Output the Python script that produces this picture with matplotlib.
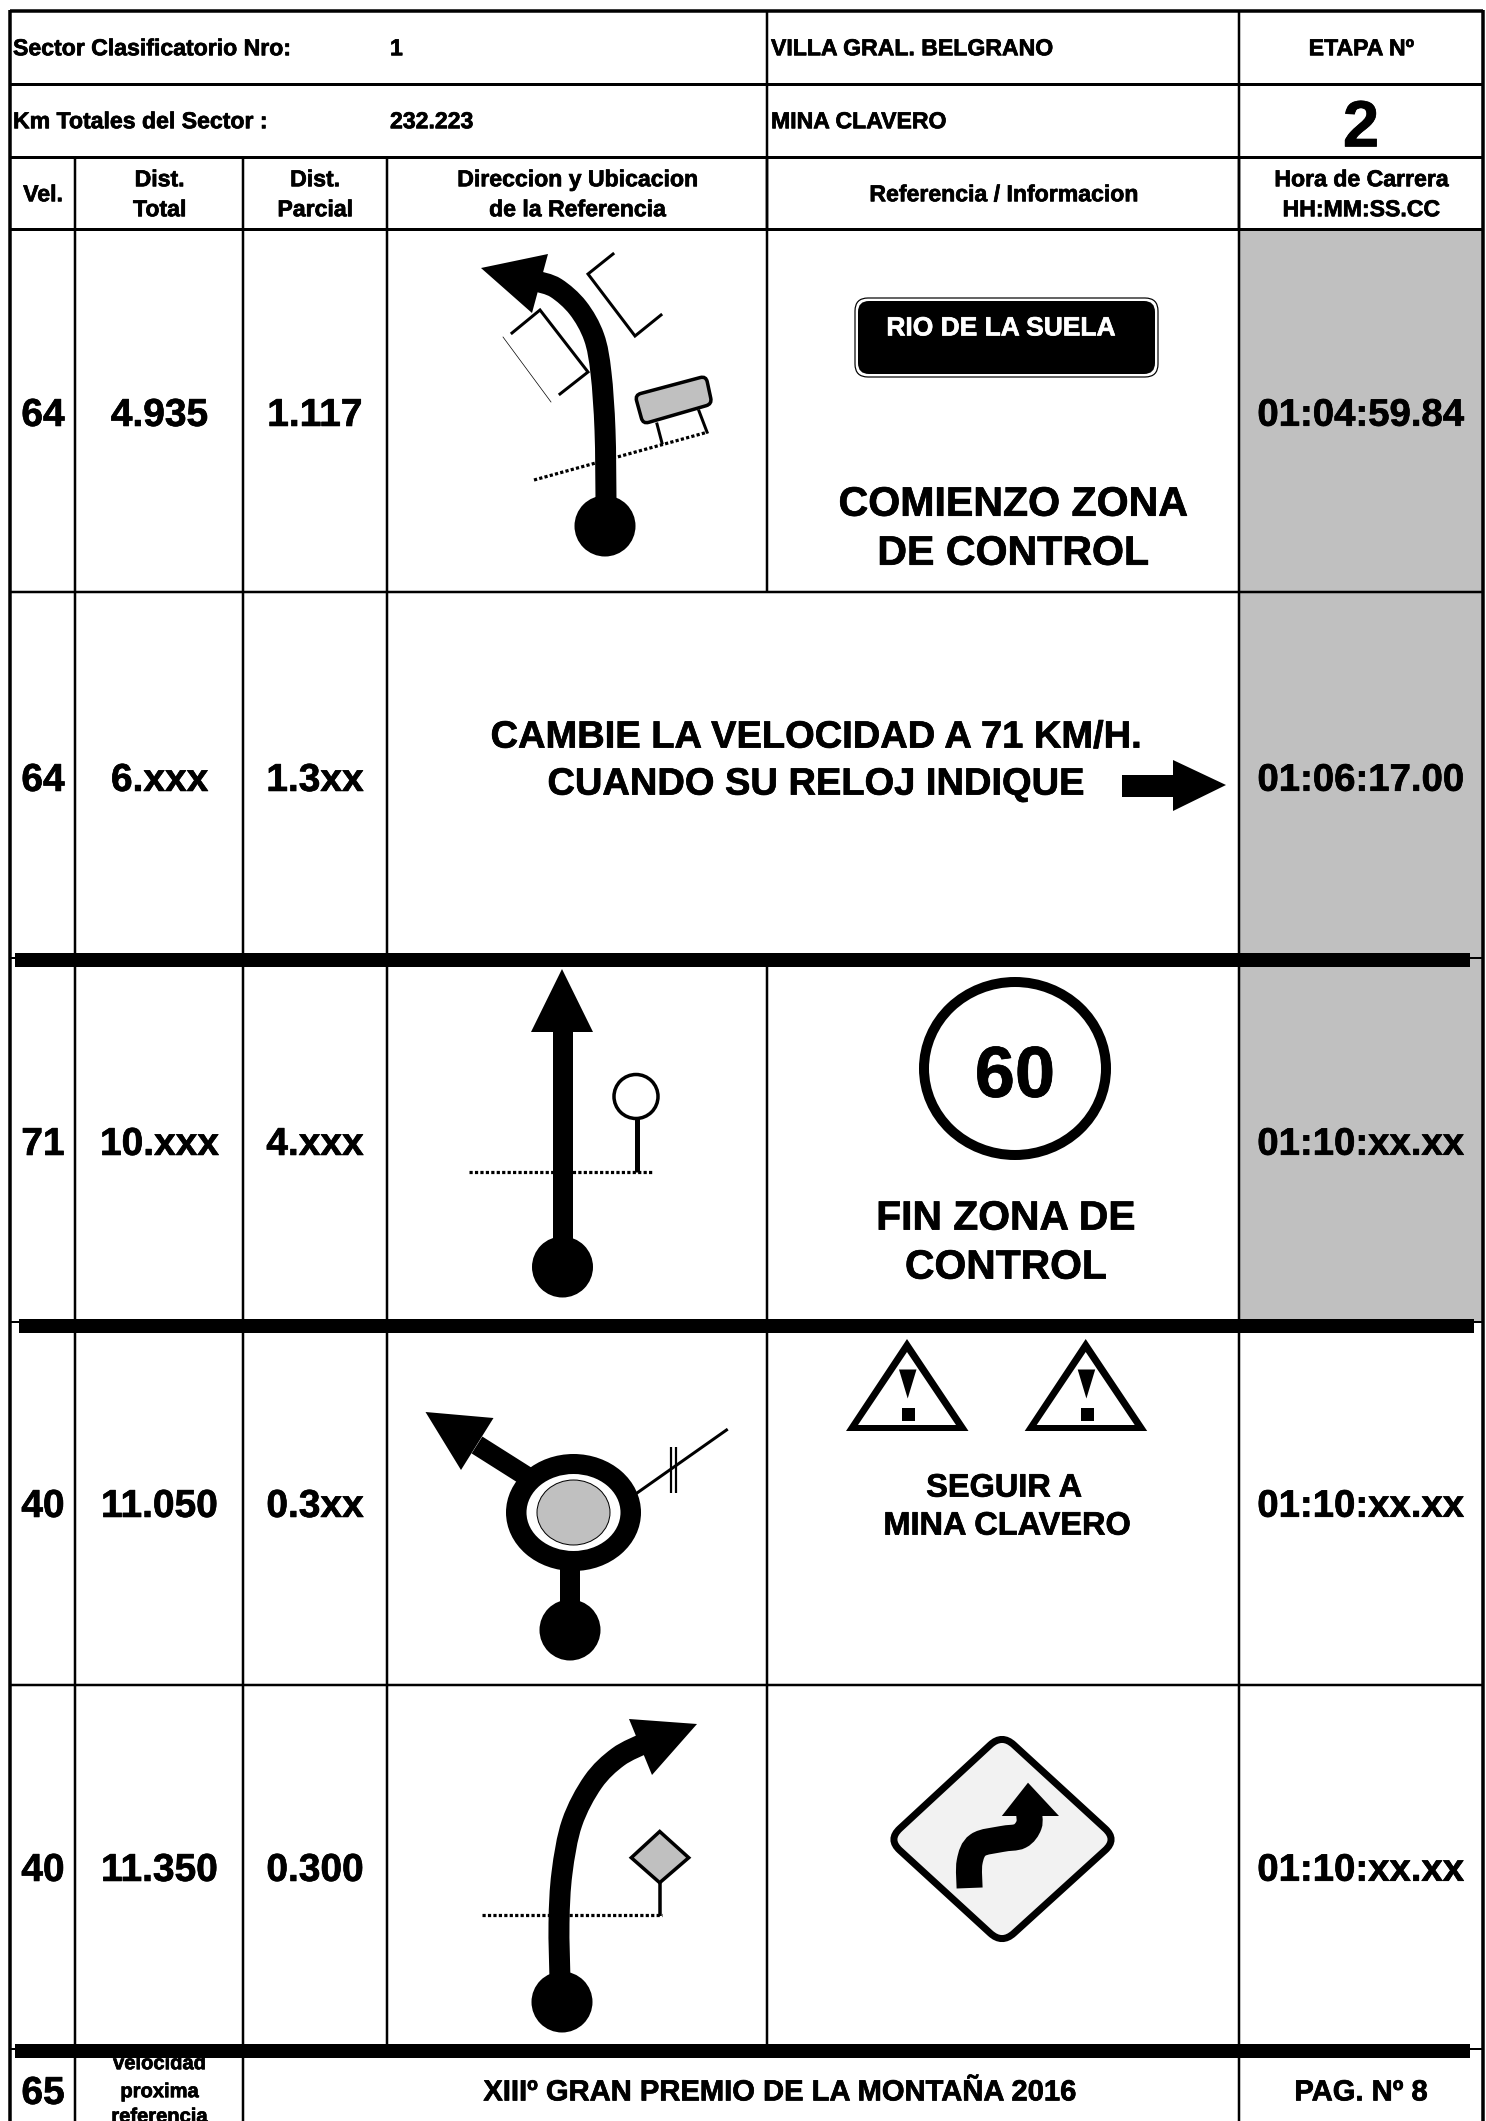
import matplotlib
matplotlib.use("Agg")
from matplotlib import pyplot as plt
from matplotlib import patheffects
from matplotlib.patches import Ellipse, Polygon, PathPatch, FancyBboxPatch, Rectangle
from matplotlib.path import Path

# table contents
sector_labels = ["Sector Clasificatorio Nro:", "Km Totales del Sector :"]
sector_values = ["1", "232.223"]
places = ["VILLA GRAL. BELGRANO", "MINA CLAVERO"]
etapa_label = "ETAPA Nº"
etapa_value = "2"
col_heads = [["Vel."], ["Dist.", "Total"], ["Dist.", "Parcial"],
             ["Direccion y Ubicacion", "de la Referencia"],
             ["Referencia / Informacion"], ["Hora de Carrera", "HH:MM:SS.CC"]]
vel = ["64", "64", "71", "40", "40"]
dist_total = ["4.935", "6.xxx", "10.xxx", "11.050", "11.350"]
dist_parcial = ["1.117", "1.3xx", "4.xxx", "0.3xx", "0.300"]
hora = ["01:04:59.84", "01:06:17.00", "01:10:xx.xx", "01:10:xx.xx", "01:10:xx.xx"]
next_vel = "65"
next_label = ["velocidad", "proxima", "referencia"]
footer = "XIIIº GRAN PREMIO DE LA MONTAÑA 2016"
page = "PAG. Nº 8"

# grid, in pixels of the page
col_x = [10, 75, 243, 387, 767, 1239, 1483]
row_y = [11, 84, 157, 229, 592, 957, 1322, 1685, 2051, 2121]
row_mid = [412, 777, 1141, 1503, 1867]
col_mid = [43, 159.5, 315, 577, 1003, 1361]
thick_bars = [(15, 1470, 960), (19, 1474, 1326), (15, 1470, 2051)]

GREY = "#c0c0c0"
FONT = "Liberation Sans"

plt.rcParams['font.family'] = FONT

fig = plt.figure(figsize=(14.86, 21.21), dpi=100)
ax = fig.add_axes([0, 0, 1, 1])
ax.set_xlim(0, 1486)
ax.set_ylim(2121, 0)
ax.axis("off")


def px(v):
    return v * 0.72


def txt(x, y, s, size, ha="center", color="black", z=5):
    # y is the middle of the capitals
    base = y + 0.358 * size * 100 / 72
    t = ax.text(x, base, s, fontsize=size, fontweight="bold", ha=ha, va="baseline", color=color, zorder=z)
    # the reference prints heavier than the plain bold face
    t.set_path_effects([patheffects.withStroke(linewidth=px(0.7), foreground=color)])


def hline(x0, x1, y, w=2.5, z=2):
    ax.plot([x0, x1], [y, y], color="black", lw=px(w), solid_capstyle="butt", zorder=z)


def vline(x, y0, y1, w=2.5, z=2):
    ax.plot([x, x], [y0, y1], color="black", lw=px(w), solid_capstyle="butt", zorder=z)


def smooth(pts, w=20, z=3, color="black"):
    # catmull-rom through the points
    verts = [pts[0]]
    codes = [Path.MOVETO]
    for i in range(len(pts) - 1):
        p0 = pts[max(i - 1, 0)]
        p1 = pts[i]
        p2 = pts[i + 1]
        p3 = pts[min(i + 2, len(pts) - 1)]
        c1 = (p1[0] + (p2[0] - p0[0]) / 6, p1[1] + (p2[1] - p0[1]) / 6)
        c2 = (p2[0] - (p3[0] - p1[0]) / 6, p2[1] - (p3[1] - p1[1]) / 6)
        verts += [c1, c2, p2]
        codes += [Path.CURVE4, Path.CURVE4, Path.CURVE4]
    ax.add_patch(PathPatch(Path(verts, codes), fc="none", ec=color, lw=px(w), capstyle="butt", zorder=z))


def poly(pts, fc="black", ec="none", w=0, z=4):
    ax.add_patch(Polygon(pts, closed=True, fc=fc, ec=ec, lw=px(w), joinstyle="miter", zorder=z))


def blob(x, y, w=61, h=61, fc="black", ec="none", lw=0, z=4):
    ax.add_patch(Ellipse((x, y), w, h, fc=fc, ec=ec, lw=px(lw), zorder=z))


def dotted(x0, y0, x1, y1):
    ax.plot([x0, x1], [y0, y1], color="black", lw=px(3.2), linestyle=(0, (1, 0.7)), zorder=2.5)


def rounded(pts, r, fc, ec, w, z=3):
    # polygon with rounded corners
    n = len(pts)
    verts = []
    codes = []
    for i in range(n):
        p = pts[i]
        a = pts[i - 1]
        b = pts[(i + 1) % n]
        la = ((a[0] - p[0]) ** 2 + (a[1] - p[1]) ** 2) ** 0.5
        lb = ((b[0] - p[0]) ** 2 + (b[1] - p[1]) ** 2) ** 0.5
        s = (p[0] + (a[0] - p[0]) * r / la, p[1] + (a[1] - p[1]) * r / la)
        e = (p[0] + (b[0] - p[0]) * r / lb, p[1] + (b[1] - p[1]) * r / lb)
        verts += [s, p, e]
        codes += [Path.MOVETO if i == 0 else Path.LINETO, Path.CURVE3, Path.CURVE3]
    verts.append(verts[0])
    codes.append(Path.CLOSEPOLY)
    ax.add_patch(PathPatch(Path(verts, codes), fc=fc, ec=ec, lw=px(w), zorder=z))


# grey time cells
ax.add_patch(Rectangle((col_x[5], row_y[3]), col_x[6] - col_x[5], row_y[6] - row_y[3], fc=GREY, ec="none", zorder=1))

# frame and grid
vline(col_x[0], row_y[0] - 1.5, 2121, 3.5)
vline(col_x[6], row_y[0] - 1.5, 2121, 3.5)
hline(col_x[0], col_x[6], row_y[0], 3.5)
for y in row_y[1:4]:
    hline(col_x[0], col_x[6], y, 3)
for y in [row_y[4], row_y[7]]:
    hline(col_x[0], col_x[6], y, 2.5)
hline(col_x[0], col_x[6], 958, 2)
hline(col_x[0], col_x[6], 1322, 2)
hline(col_x[0], col_x[6], 2049, 2)
for x in col_x[4:6]:
    vline(x, row_y[0], row_y[3])
for x in col_x[1:6]:
    vline(x, row_y[2], row_y[3])
for x in col_x[1:4]:
    vline(x, row_y[3], row_y[8])
vline(col_x[4], row_y[3], row_y[4])
vline(col_x[4], row_y[5], row_y[8])
vline(col_x[5], row_y[3], 2121)
vline(col_x[1], row_y[8], 2121)
vline(col_x[2], row_y[8], 2121)
for x0, x1, y in thick_bars:
    ax.add_patch(Rectangle((x0, y - 7), x1 - x0, 14, fc="black", ec="none", zorder=6))

# header
for y, lab, val, place in zip([47, 120], sector_labels, sector_values, places):
    txt(col_x[0] + 3, y, lab, 16.6, ha="left")
    txt(390, y, val, 16.6, ha="left")
    txt(771, y, place, 16.6, ha="left")
txt(col_mid[5], 47, etapa_label, 16.6)
txt(col_mid[5], 123, etapa_value, 47)
for xc, lines in zip(col_mid, col_heads):
    if len(lines) == 1:
        txt(xc, 193, lines[0], 16.6)
    else:
        txt(xc, 178, lines[0], 16.6)
        txt(xc, 208, lines[1], 16.6)

# table rows
for y, a, b, c, d in zip(row_mid, vel, dist_total, dist_parcial, hora):
    txt(col_mid[0], y, a, 28)
    txt(col_mid[1], y, b, 28)
    txt(col_mid[2], y, c, 28)
    txt(col_mid[5], y, d, 27.6)

# row 1: curve left
smooth([(606, 500), (605, 430), (601, 373), (594, 337), (578, 308), (556, 288), (536, 281)], w=21)
poly([(481, 268), (548, 254), (532, 313)])
blob(605, 526)
ax.plot([613, 588, 635, 661], [254, 274, 336, 315], color="black", lw=px(3), zorder=3, solid_joinstyle="miter")
ax.plot([512, 540, 588, 560], [333, 310, 372, 394], color="black", lw=px(3), zorder=3, solid_joinstyle="miter")
ax.plot([503, 551], [337, 402], color="black", lw=px(0.7), zorder=3)
rounded([(635, 395), (706, 376), (712, 404), (643, 424)], 6, GREY, "black", 3.5)
ax.plot([657, 662], [424, 443], color="black", lw=px(3), zorder=3)
ax.plot([699, 707], [411, 432], color="black", lw=px(3), zorder=3)
dotted(534, 480, 708, 432)
ax.add_patch(FancyBboxPatch((855, 298), 303, 79, boxstyle="round,pad=0,rounding_size=13", fc="white", ec="black", lw=px(1.2), zorder=3))
ax.add_patch(FancyBboxPatch((858, 301), 297, 73, boxstyle="round,pad=0,rounding_size=11", fc="black", ec="none", zorder=3))
txt(1001, 326, "RIO DE LA SUELA", 19, color="white")
txt(1013, 501, "COMIENZO ZONA", 29.6)
txt(1013, 550, "DE CONTROL", 29.6)

# row 2: speed change
txt(815, 734, "CAMBIE LA VELOCIDAD A 71 KM/H.", 27.4)
txt(815, 781, "CUANDO SU RELOJ INDIQUE", 27.4)
ax.add_patch(Rectangle((1122, 775), 52, 22, fc="black", ec="none", zorder=4))
poly([(1173, 760), (1226, 785), (1173, 811)])

# row 3: straight on
vline(562.5, 1030, 1250, 20, 3)
poly([(531, 1032), (593, 1032), (562, 969)])
blob(562.5, 1267)
dotted(469, 1172, 652, 1172)
vline(637, 1118, 1172, 5, 3)
blob(636, 1096.5, 44, 44, fc="white", ec="black", lw=3.5)
blob(1015, 1068.5, 182, 173, fc="white", ec="black", lw=10)
txt(1015, 1071, "60", 52)
txt(1006, 1215, "FIN ZONA DE", 29.4)
txt(1006, 1264, "CONTROL", 29.4)

# row 4: roundabout
blob(573.5, 1512.5, 135, 117)
blob(573.5, 1512.5, 94, 77, fc="white", z=4.1)
blob(573.5, 1512.5, 73, 65, fc=GREY, ec="black", lw=1, z=4.2)
vline(570, 1565, 1610, 20, 3)
blob(570, 1630)
ax.plot([526, 477], [1476, 1445], color="black", lw=px(20), solid_capstyle="butt", zorder=3)
poly([(425.5, 1412), (493.5, 1418), (461, 1470)])
ax.plot([637, 726.5], [1493, 1430], color="black", lw=px(3), zorder=3)
vline(671, 1447, 1493, 2.2, 3)
vline(676, 1447, 1493, 2.2, 3)
for dx in [0, 178.7]:
    poly([(907 + dx, 1339), (846 + dx, 1431), (968.5 + dx, 1431)])
    poly([(907 + dx, 1352), (858 + dx, 1425), (956 + dx, 1425)], fc="white", z=4.1)
    poly([(899 + dx, 1369.5), (916.5 + dx, 1369.5), (907.7 + dx, 1398.5)], z=4.2)
    ax.add_patch(Rectangle((902 + dx, 1408), 13.3, 13, fc="black", ec="none", zorder=4.2))
txt(1004, 1485, "SEGUIR A", 23.4)
txt(1007, 1523, "MINA CLAVERO", 23.4)

# row 5: curve right
smooth([(560, 1980), (559, 1923), (562, 1873), (572, 1823), (593, 1782), (618, 1757), (645, 1743)], w=21)
poly([(629, 1719), (697, 1724), (652, 1775)])
blob(562, 2002)
dotted(482, 1915, 662, 1915)
vline(659.7, 1882, 1916, 3.5, 3)
poly([(659.7, 1831.5), (688.7, 1857.7), (659.7, 1882.7), (631.3, 1857.7)], fc=GREY, ec="black", w=3.5, z=3.5)
rounded([(1002, 1734), (1117, 1839.5), (1002, 1944), (888, 1839.5)], 16, "#f2f2f2", "black", 7)
smooth([(969.6, 1888), (969.6, 1862), (978, 1845), (1001.8, 1839), (1020, 1836), (1029, 1825), (1029, 1812)], w=26, z=4)
poly([(1028, 1782.7), (1059, 1816), (1001.8, 1816)])

# footer
txt(col_mid[0], 2090, next_vel, 28)
for y, s in zip([2062, 2090, 2115], next_label):
    txt(col_mid[1], y, s, 14.5)
txt(780, 2090, footer, 21)
txt(col_mid[5], 2090, page, 21)

plt.savefig("out.png", dpi=100)
